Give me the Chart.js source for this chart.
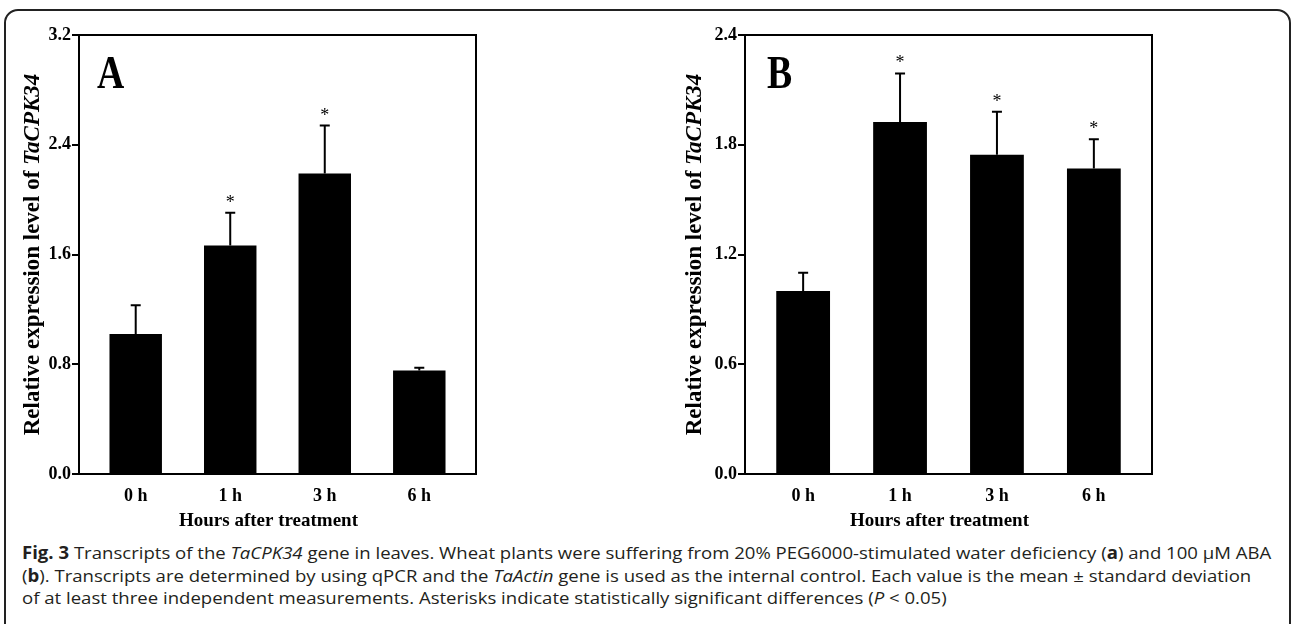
<!DOCTYPE html>
<html>
<head>
<meta charset="utf-8">
<script src="https://cdn.jsdelivr.net/npm/chart.js@4.4.1/dist/chart.umd.min.js"></script>
<style>
  body { margin: 0; background: #fff; width: 1292px; height: 624px; overflow: hidden; position: relative; }
  .frame { position: absolute; left: 4px; top: 9px; width: 1287px; height: 650px; border: 2px solid #222; border-radius: 14px; box-sizing: border-box; }
  .panel { position: absolute; top: 0; }
  #chartA { left: 0; }
  #chartB { left: 646px; }
  .caption { position: absolute; left: 22px; top: 542px; font-family: 'Open Sans', sans-serif; font-size: 17px; line-height: 22.5px; color: #231f20; white-space: nowrap; transform: scaleX(1.092); transform-origin: 0 0; }
</style>
</head>
<body>
<div class="frame"></div>
<canvas id="chartA" class="panel" width="646" height="540"></canvas>
<canvas id="chartB" class="panel" width="646" height="540"></canvas>
<div class="caption">
  <div><b>Fig. 3</b> Transcripts of the <i>TaCPK34</i> gene in leaves. Wheat plants were suffering from 20% PEG6000-stimulated water deficiency (<b>a</b>) and 100 μM ABA</div>
  <div>(<b>b</b>). Transcripts are determined by using qPCR and the <i>TaActin</i> gene is used as the internal control. Each value is the mean ± standard deviation</div>
  <div>of at least three independent measurements. Asterisks indicate statistically significant differences (<i>P</i> &lt; 0.05)</div>
</div>
<script>
// data
const hours = ['0 h', '1 h', '3 h', '6 h'];

// panel A: PEG6000
const meansA = [1.02, 1.665, 2.19, 0.755];
const sdA = [0.21, 0.24, 0.35, 0.02];
const sigA = [false, true, true, false];
const yTicksA = [0, 0.8, 1.6, 2.4, 3.2];

// panel B: ABA
const meansB = [1.0, 1.925, 1.745, 1.67];
const sdB = [0.10, 0.265, 0.235, 0.16];
const sigB = [false, true, true, true];
const yTicksB = [0, 0.6, 1.2, 1.8, 2.4];

const serif = '"Liberation Serif", "Times New Roman", serif';

// error bars, asterisks, box, panel letter and axis titles
const figurePlugin = {
  id: 'figure',
  afterDraw(chart, args, opts) {
    const { ctx, chartArea: a, scales: { x, y } } = chart;
    ctx.save();
    ctx.strokeStyle = '#000';
    ctx.fillStyle = '#000';
    ctx.lineWidth = 2;

    opts.means.forEach((m, i) => {
      const px = x.getPixelForValue(i);
      const base = y.getPixelForValue(m);
      const top = y.getPixelForValue(m + opts.sd[i]);
      ctx.beginPath();
      ctx.moveTo(px, base);
      ctx.lineTo(px, top);
      ctx.moveTo(px - 5, top);
      ctx.lineTo(px + 5, top);
      ctx.stroke();
      if (opts.sig[i]) {
        ctx.font = '18px ' + serif;
        ctx.textAlign = 'center';
        ctx.textBaseline = 'alphabetic';
        ctx.fillText('*', px, top - 5);
      }
    });

    ctx.strokeRect(a.left, a.top, a.right - a.left, a.bottom - a.top);

    // panel letter, a little narrower than plain Times
    ctx.save();
    ctx.translate(a.left + opts.letterX, a.top + 53);
    ctx.scale(0.82, 1);
    ctx.font = 'bold 46px ' + serif;
    ctx.textAlign = 'left';
    ctx.textBaseline = 'alphabetic';
    ctx.fillText(opts.letter, 0, 0);
    ctx.restore();

    ctx.font = 'bold 19px ' + serif;
    ctx.textAlign = 'center';
    ctx.textBaseline = 'alphabetic';
    ctx.fillText('Hours after treatment', (a.left + a.right) / 2 - 9, a.bottom + 52);

    // y title: plain part + italic gene name
    const p1 = 'Relative expression level of ';
    const p2 = 'TaCPK34';
    const f1 = 'bold 23px ' + serif;
    const f2 = 'italic bold 23px ' + serif;
    ctx.translate(a.left - opts.titleGap, (a.top + a.bottom) / 2);
    ctx.rotate(-Math.PI / 2);
    ctx.textBaseline = 'middle';
    ctx.textAlign = 'left';
    ctx.font = f1;
    const w1 = ctx.measureText(p1).width;
    ctx.font = f2;
    const w2 = ctx.measureText(p2).width;
    const sx = -(w1 + w2) / 2;
    ctx.font = f1;
    ctx.fillText(p1, sx, 0);
    ctx.font = f2;
    ctx.fillText(p2, sx + w1, 0);
    ctx.restore();
  }
};

function createPanel(canvasId, means, sd, sig, yTicks, letter, letterX, yWidth, padRight, titleGap) {
  const ctx = document.getElementById(canvasId).getContext('2d');
  return new Chart(ctx, {
    type: 'bar',
    data: {
      datasets: [{
        data: means.map((v, i) => ({ x: i, y: v })),
        backgroundColor: '#000',
        borderWidth: 0,
        barPercentage: 0.555,
        categoryPercentage: 1
      }]
    },
    options: {
      responsive: false,
      animation: false,
      layout: { padding: { left: 0, top: 35, right: padRight, bottom: 0 } },
      plugins: {
        legend: { display: false },
        tooltip: { enabled: false },
        figure: { means: means, sd: sd, sig: sig, letter: letter, letterX: letterX, titleGap: titleGap }
      },
      scales: {
        x: {
          type: 'linear',
          offset: false,
          min: -0.6,
          max: 3.6,
          afterBuildTicks: scale => { scale.ticks = hours.map((_, i) => ({ value: i })); },
          afterFit: scale => { scale.height = 66; },
          grid: { display: false, offset: false },
          border: { display: false },
          ticks: {
            padding: 4,
            color: '#000',
            font: { family: serif, size: 18, weight: 'bold' },
            callback: v => hours[v]
          }
        },
        y: {
          min: yTicks[0],
          max: yTicks[yTicks.length - 1],
          afterBuildTicks: scale => { scale.ticks = yTicks.map(v => ({ value: v })); },
          afterFit: scale => { scale.width = yWidth; },
          grid: { drawOnChartArea: false, tickLength: 7, lineWidth: 2, color: '#000' },
          border: { display: false },
          ticks: {
            padding: 1,
            color: '#000',
            font: { family: serif, size: 18, weight: 'bold' },
            callback: v => v.toFixed(1)
          }
        }
      }
    },
    plugins: [figurePlugin]
  });
}

createPanel('chartA', meansA, sdA, sigA, yTicksA, 'A', 18, 79, 170, 46);
createPanel('chartB', meansB, sdB, sigB, yTicksB, 'B', 22, 99, 140, 50);
</script>
</body>
</html>
